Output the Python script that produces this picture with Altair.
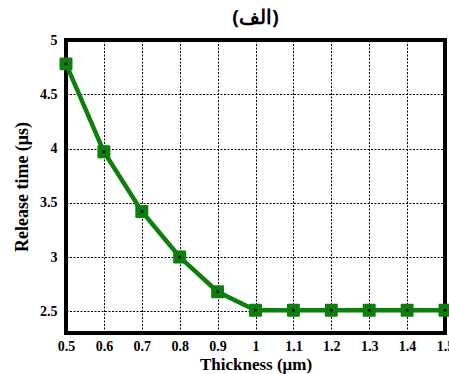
import altair as alt
import pandas as pd

thickness = [0.5, 0.6, 0.7, 0.8, 0.9, 1.0, 1.1, 1.2, 1.3, 1.4, 1.5]
release = [4.78, 3.97, 3.42, 3.00, 2.68, 2.51, 2.51, 2.51, 2.51, 2.51, 2.51]
x_ticks = [0.5, 0.6, 0.7, 0.8, 0.9, 1.0, 1.1, 1.2, 1.3, 1.4, 1.5]
y_ticks = [2.5, 3.0, 3.5, 4.0, 4.5, 5.0]

df = pd.DataFrame({"t": thickness, "r": release})

FONT = "Liberation Serif"
GREEN = "#0d7f0d"

x = alt.X("t:Q", scale=alt.Scale(domain=[0.5, 1.5], nice=False, zero=False),
          axis=alt.Axis(values=x_ticks, format="~g", title="Thickness (μm)",
                        grid=True, gridDash=[2, 1.5], gridColor="black", gridWidth=1,
                        ticks=False, domain=False, labelPadding=6,
                        labelFont=FONT, labelFontWeight="bold", labelFontSize=14,
                        labelColor="black", titleFont=FONT, titleFontWeight="bold",
                        titleFontSize=17, titleColor="black", titlePadding=3,
                        labelOverlap=False, labelFlush=False))
y = alt.Y("r:Q", scale=alt.Scale(domain=[2.3, 5], nice=False, zero=False),
          axis=alt.Axis(values=y_ticks, format="~g", title="Release time (μs)",
                        grid=True, gridDash=[2, 1.5], gridColor="black", gridWidth=1,
                        ticks=False, domain=False, labelPadding=9,
                        labelFont=FONT, labelFontWeight="bold", labelFontSize=14,
                        labelColor="black", titleFont=FONT, titleFontWeight="bold",
                        titleFontSize=18, titleColor="black", titlePadding=8,
                        labelOverlap=False, labelFlush=False))

base = alt.Chart(df)
line = base.mark_line(color=GREEN, strokeWidth=4.5).encode(x=x, y=y)
pts = base.mark_point(shape="square", filled=True, color=GREEN, size=120, opacity=1,
                      strokeJoin="round", stroke=GREEN, strokeWidth=2).encode(x=x, y=y)
dots = base.mark_point(shape="square", filled=True, color="black", size=7, opacity=1).encode(x=x, y=y)

chart = (line + pts + dots).properties(
    width=379, height=293,
    title=alt.TitleParams("(الف)", font="Noto Sans", fontWeight="bold", fontSize=20,
                          color="black", anchor="middle", offset=5),
    autosize=alt.AutoSizeParams(type="none"),
    padding={"left": 66, "top": 40, "right": 4, "bottom": 41},
).configure_view(stroke="black", strokeWidth=4)

chart.save("out.html", embed_options={"renderer": "svg", "actions": False})
